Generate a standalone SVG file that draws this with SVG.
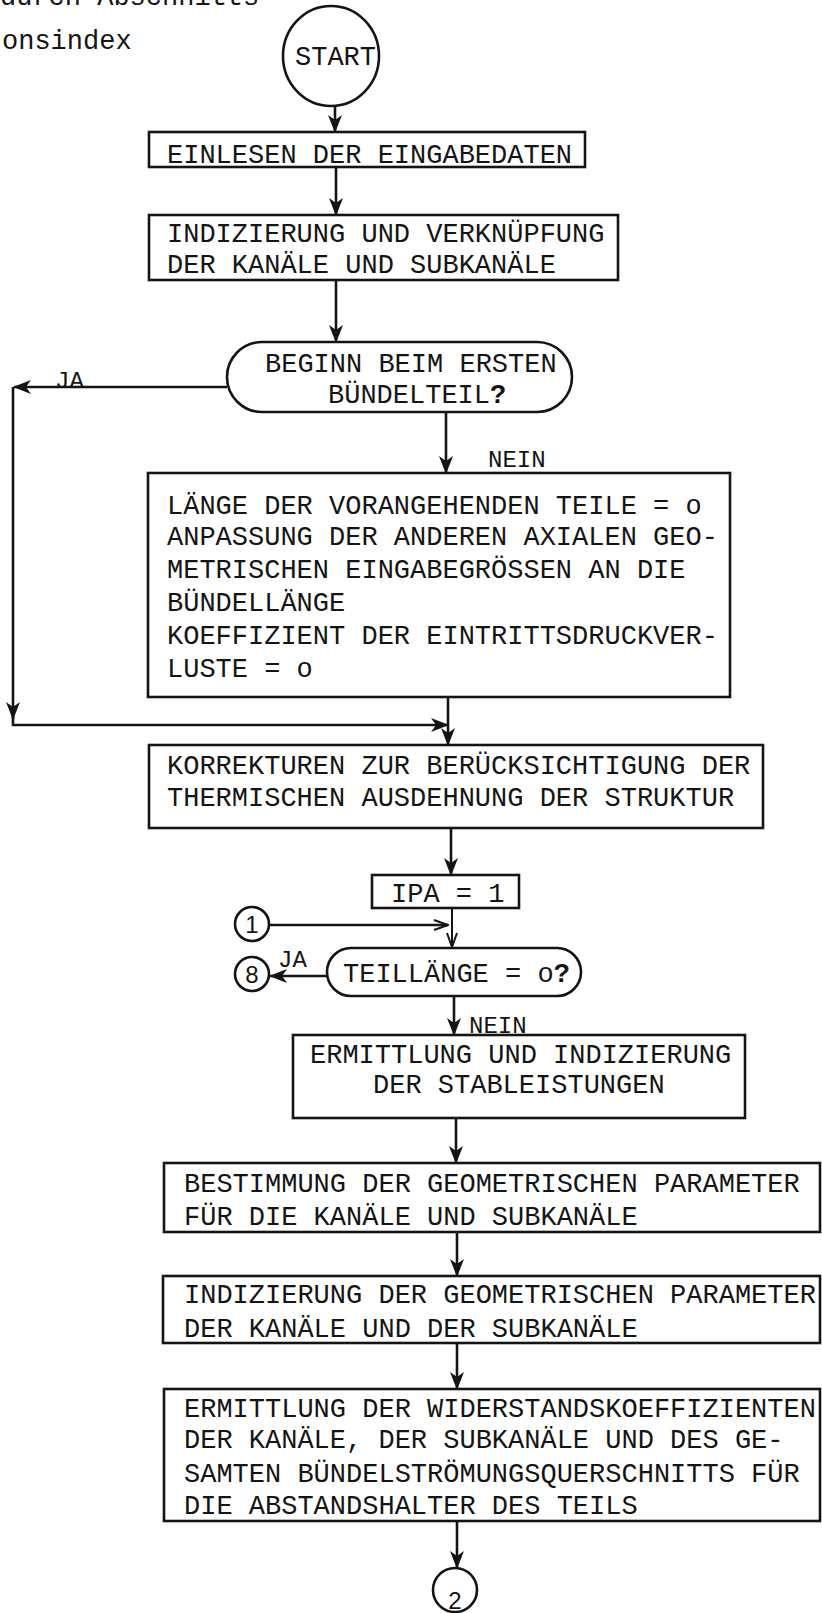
<svg xmlns="http://www.w3.org/2000/svg" width="822" height="1613" viewBox="0 0 822 1613">
<style>
.t{font-family:"Liberation Mono","DejaVu Sans Mono",monospace;font-size:27px;fill:#141414}
.s{font-size:24px}
.box{fill:#fff;stroke:#141414;stroke-width:2.6}
.ln{fill:none;stroke:#141414;stroke-width:2.6}
.thin{fill:none;stroke:#141414;stroke-width:2}
.num{font-family:"Liberation Sans",Arial,sans-serif;font-size:24px;fill:#141414;text-anchor:middle}
.q{font-weight:bold}
</style>
<defs>
<marker id="ah" viewBox="0 0 18 14" refX="17" refY="7" markerWidth="18" markerHeight="14" markerUnits="userSpaceOnUse" orient="auto"><path d="M0,0 L18,7 L0,14 L5,7 Z" fill="#141414"/></marker>
<marker id="ao" viewBox="0 0 16 12" refX="15" refY="6" markerWidth="16" markerHeight="12" markerUnits="userSpaceOnUse" orient="auto"><path d="M1,1 L15,6 L1,11" fill="none" stroke="#141414" stroke-width="2"/></marker>
</defs>
<rect width="822" height="1613" fill="#fff"/>

<g id="page-text">
<text class="t" x="0" y="5">durch Abschnitts</text>
<text class="t" x="2" y="49">onsindex</text>
</g>

<g id="connectors">
<line class="ln" x1="335" y1="105" x2="335" y2="132" marker-end="url(#ah)"/>
<line class="ln" x1="336" y1="167" x2="336" y2="215" marker-end="url(#ah)"/>
<line class="ln" x1="336" y1="280" x2="336" y2="342" marker-end="url(#ah)"/>
<line class="ln" x1="227" y1="387" x2="14" y2="387" marker-end="url(#ah)"/>
<line class="ln" x1="13" y1="387" x2="13" y2="719" marker-end="url(#ah)"/>
<polyline class="ln" points="13,712 13,725 448,725" marker-end="url(#ah)"/>
<line class="ln" x1="446" y1="412" x2="446" y2="473" marker-end="url(#ah)"/>
<line class="ln" x1="448" y1="697" x2="448" y2="745" marker-end="url(#ah)"/>
<line class="ln" x1="451" y1="828" x2="451" y2="875" marker-end="url(#ah)"/>
<line class="thin" x1="452" y1="908" x2="452" y2="947" marker-end="url(#ao)"/>
<line class="ln" x1="269" y1="925" x2="448" y2="925" marker-end="url(#ao)"/>
<line class="ln" x1="327" y1="976" x2="270" y2="976" marker-end="url(#ah)"/>
<line class="ln" x1="454" y1="996" x2="454" y2="1035" marker-end="url(#ah)"/>
<line class="ln" x1="456" y1="1118" x2="456" y2="1163" marker-end="url(#ah)"/>
<line class="ln" x1="457" y1="1232" x2="457" y2="1276" marker-end="url(#ah)"/>
<line class="ln" x1="457" y1="1343" x2="457" y2="1389" marker-end="url(#ah)"/>
<line class="ln" x1="457" y1="1521" x2="457" y2="1568" marker-end="url(#ah)"/>
<text class="t s" x="55" y="388">JA</text>
<text class="t s" x="488" y="467">NEIN</text>
<text class="t s" x="278" y="967">JA</text>
<text class="t s" x="469" y="1033">NEIN</text>
</g>

<g id="start">
<ellipse class="box" cx="331" cy="56" rx="48" ry="50"/>
<text class="t" x="295" y="65">START</text>
</g>

<g id="einlesen">
<rect class="box" x="149" y="132" width="436" height="35"/>
<text class="t" x="167" y="163">EINLESEN DER EINGABEDATEN</text>
</g>

<g id="indizierung-kanaele">
<rect class="box" x="149" y="215" width="469" height="65"/>
<text class="t" x="167" y="242">INDIZIERUNG UND VERKNÜPFUNG</text>
<text class="t" x="167" y="273">DER KANÄLE UND SUBKANÄLE</text>
</g>

<g id="beginn-decision">
<rect class="box" x="227" y="342" width="345" height="70" rx="35" ry="35"/>
<text class="t" x="265" y="372">BEGINN BEIM ERSTEN</text>
<text class="t" x="328" y="403">BÜNDELTEIL<tspan class="q">?</tspan></text>
</g>

<g id="laenge">
<rect class="box" x="148" y="473" width="582" height="224"/>
<text class="t" x="167" y="514">LÄNGE DER VORANGEHENDEN TEILE = o</text>
<text class="t" x="167" y="545">ANPASSUNG DER ANDEREN AXIALEN GEO-</text>
<text class="t" x="167" y="578">METRISCHEN EINGABEGRÖSSEN AN DIE</text>
<text class="t" x="167" y="611">BÜNDELLÄNGE</text>
<text class="t" x="167" y="644">KOEFFIZIENT DER EINTRITTSDRUCKVER-</text>
<text class="t" x="167" y="677">LUSTE = o</text>
</g>

<g id="korrekturen">
<rect class="box" x="149" y="745" width="614" height="83"/>
<text class="t" x="167" y="774">KORREKTUREN ZUR BERÜCKSICHTIGUNG DER</text>
<text class="t" x="167" y="806">THERMISCHEN AUSDEHNUNG DER STRUKTUR</text>
</g>

<g id="ipa">
<rect class="box" x="372" y="875" width="147" height="33"/>
<text class="t" x="391" y="902">IPA = 1</text>
</g>

<g id="connector-1">
<circle class="box" cx="252" cy="924" r="17"/>
<text class="num" x="252" y="933">1</text>
</g>

<g id="teillaenge-decision">
<rect class="box" x="327" y="948" width="254" height="48" rx="24" ry="24"/>
<text class="t" x="343" y="982">TEILLÄNGE = o<tspan class="q">?</tspan></text>
</g>

<g id="connector-8">
<circle class="box" cx="252" cy="974" r="17"/>
<text class="num" x="252" y="983">8</text>
</g>

<g id="stableistungen">
<rect class="box" x="293" y="1035" width="452" height="83"/>
<text class="t" x="310" y="1063">ERMITTLUNG UND INDIZIERUNG</text>
<text class="t" x="373" y="1093">DER STABLEISTUNGEN</text>
</g>

<g id="bestimmung">
<rect class="box" x="164" y="1163" width="656" height="69"/>
<text class="t" x="184" y="1192">BESTIMMUNG DER GEOMETRISCHEN PARAMETER</text>
<text class="t" x="184" y="1225">FÜR DIE KANÄLE UND SUBKANÄLE</text>
</g>

<g id="indizierung-parameter">
<rect class="box" x="163" y="1276" width="657" height="67"/>
<text class="t" x="184" y="1303">INDIZIERUNG DER GEOMETRISCHEN PARAMETER</text>
<text class="t" x="184" y="1337">DER KANÄLE UND DER SUBKANÄLE</text>
</g>

<g id="widerstand">
<rect class="box" x="164" y="1389" width="656" height="132"/>
<text class="t" x="184" y="1417">ERMITTLUNG DER WIDERSTANDSKOEFFIZIENTEN</text>
<text class="t" x="184" y="1448">DER KANÄLE, DER SUBKANÄLE UND DES GE-</text>
<text class="t" x="184" y="1482">SAMTEN BÜNDELSTRÖMUNGSQUERSCHNITTS FÜR</text>
<text class="t" x="184" y="1514">DIE ABSTANDSHALTER DES TEILS</text>
</g>

<g id="connector-2">
<circle class="box" cx="455" cy="1590" r="22"/>
<text class="num" x="455" y="1609">2</text>
</g>
</svg>
